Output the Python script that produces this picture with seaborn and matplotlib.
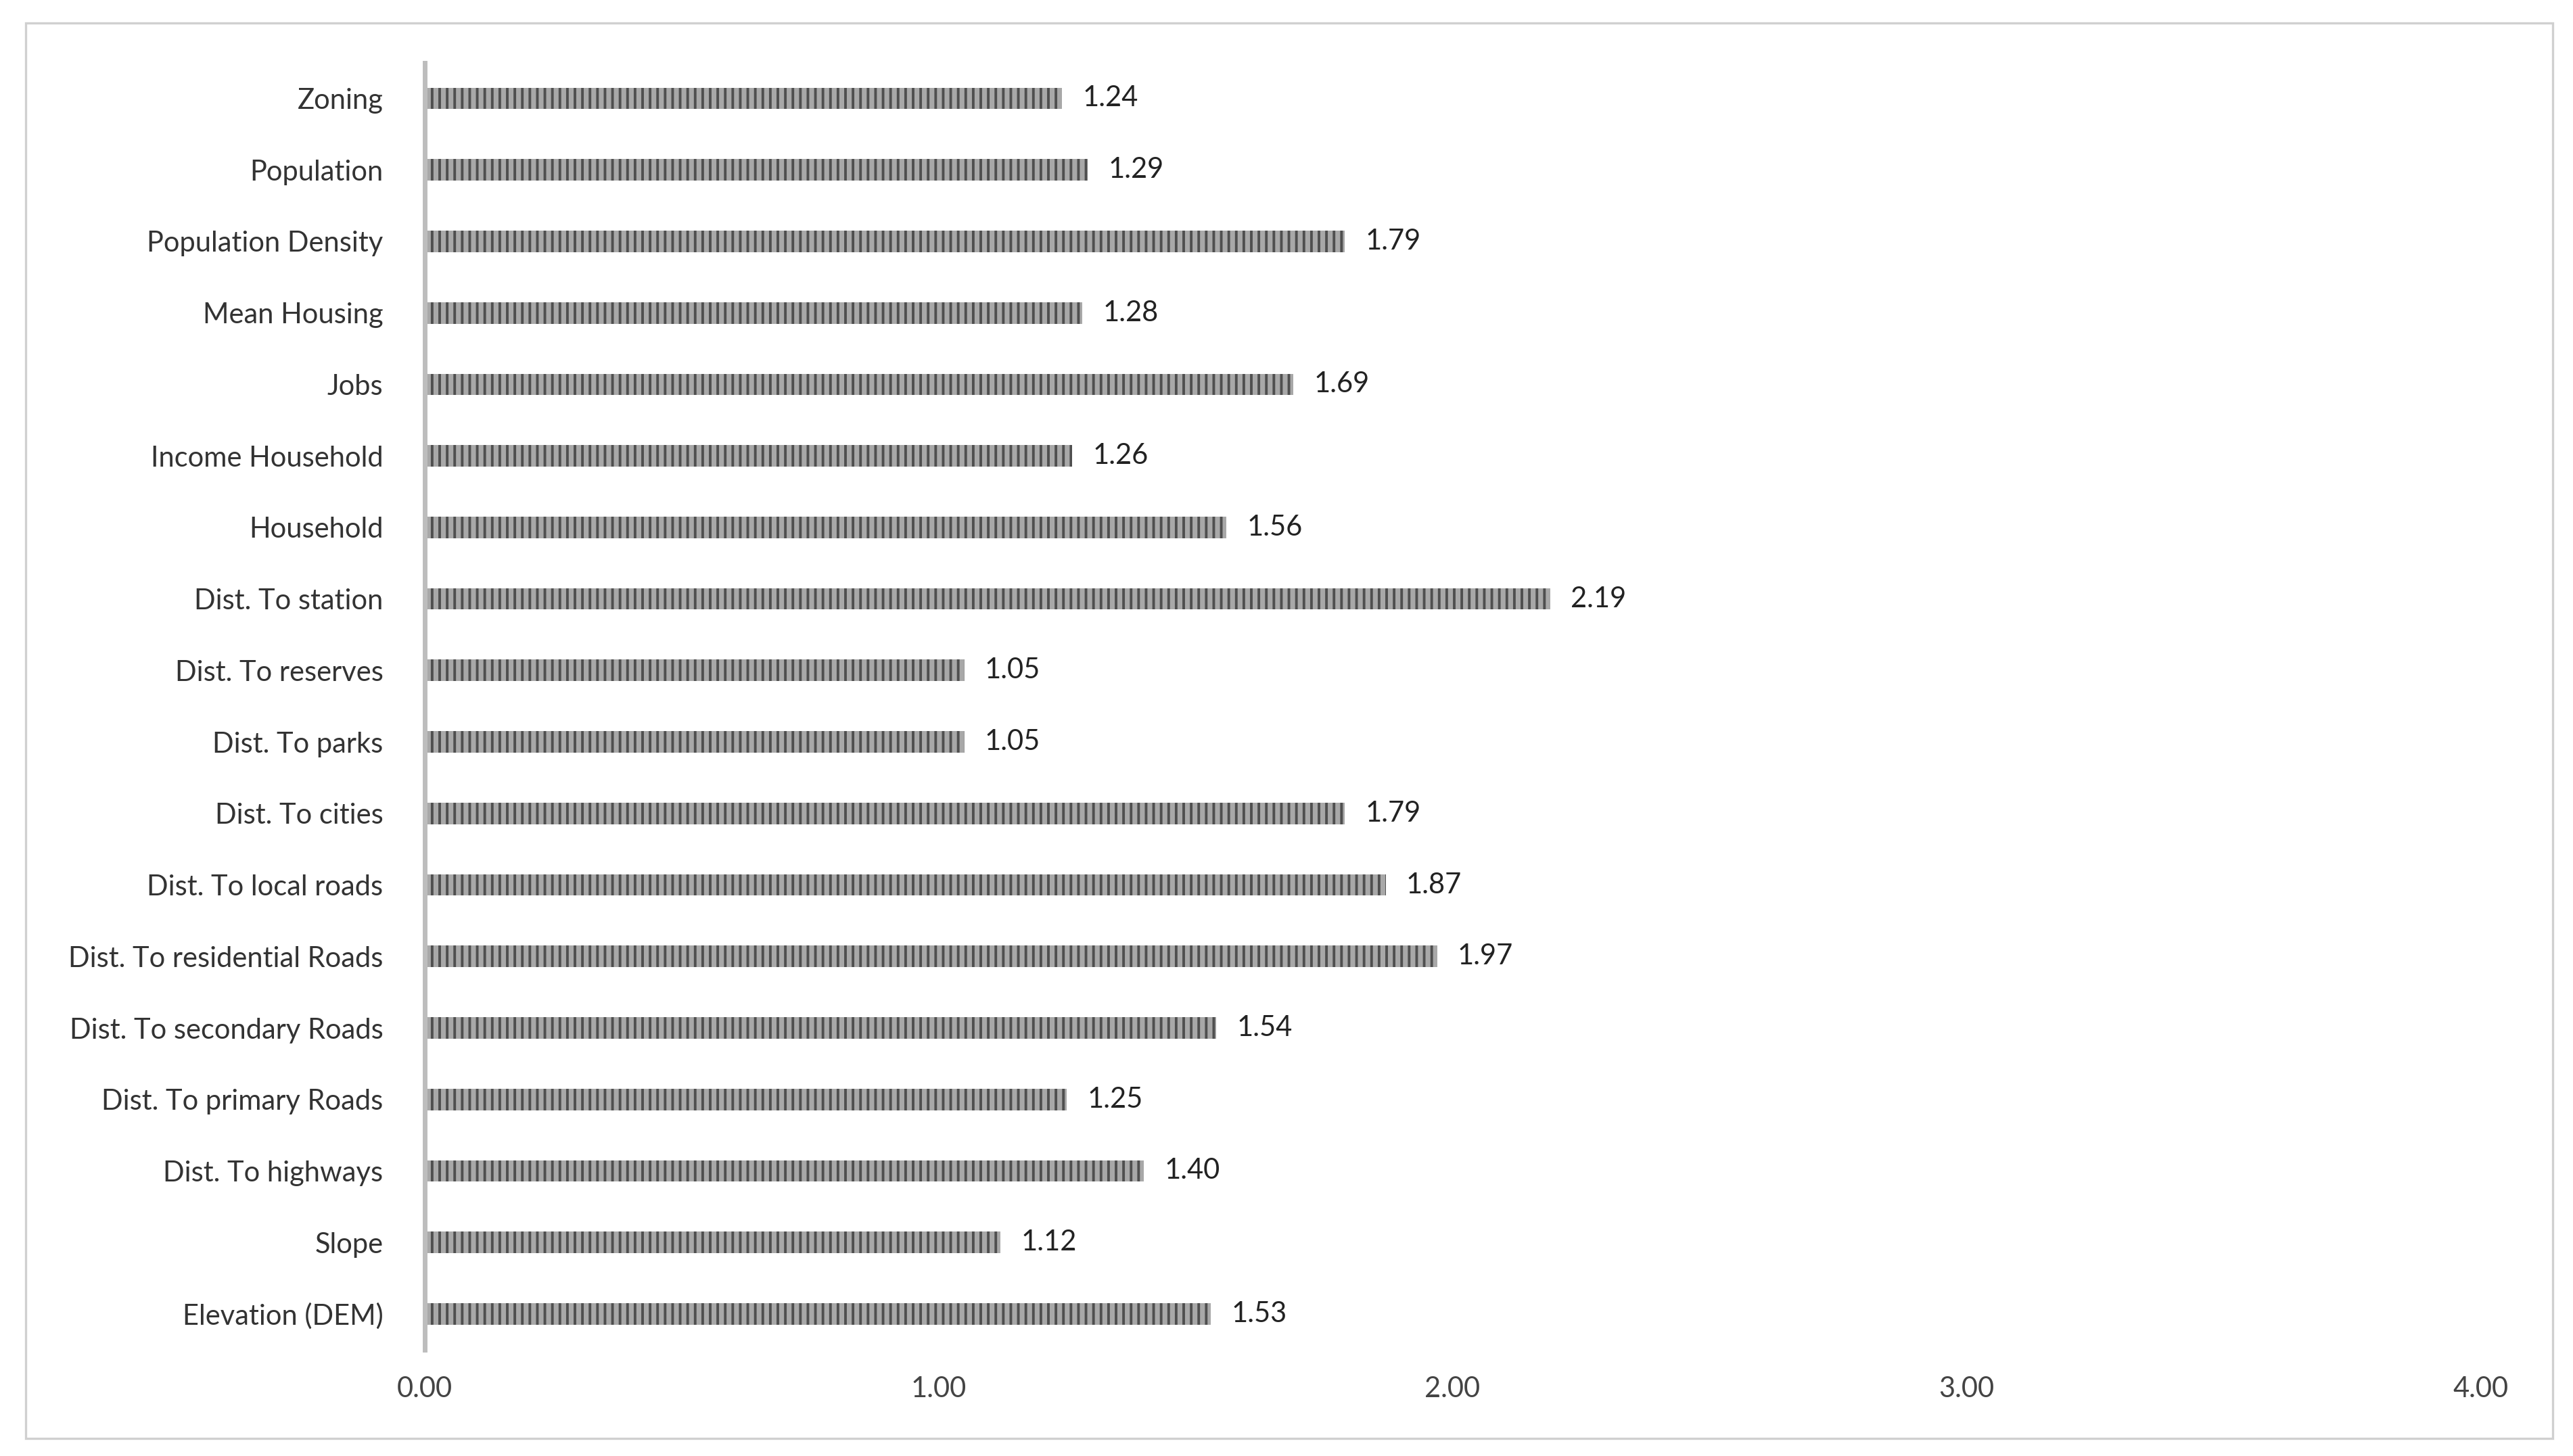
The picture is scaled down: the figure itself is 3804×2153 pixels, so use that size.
import matplotlib
matplotlib.use("Agg")
import matplotlib.pyplot as plt
import seaborn as sns
import pandas as pd
from matplotlib.patches import Rectangle

categories = ["Zoning", "Population", "Population Density", "Mean Housing", "Jobs",
              "Income Household", "Household", "Dist. To station", "Dist. To reserves",
              "Dist. To parks", "Dist. To cities", "Dist. To local roads",
              "Dist. To residential Roads", "Dist. To secondary Roads",
              "Dist. To primary Roads", "Dist. To highways", "Slope", "Elevation (DEM)"]
values = [1.24, 1.29, 1.79, 1.28, 1.69, 1.26, 1.56, 2.19, 1.05, 1.05, 1.79, 1.87,
          1.97, 1.54, 1.25, 1.40, 1.12, 1.53]
xticks = [0.0, 1.0, 2.0, 3.0, 4.0]

sns.set_theme(style="white")
plt.rcParams['font.family'] = ['Lato', 'DejaVu Sans']
plt.rcParams['hatch.linewidth'] = 1.4
plt.rcParams['hatch.color'] = '#4f4f4f'

fig = plt.figure(figsize=(19.02, 10.765), dpi=200)
fig.patches.append(Rectangle((0.010, 0.012), 0.982, 0.972, transform=fig.transFigure,
                             fill=False, edgecolor='#d0d0d0', linewidth=1.2))
ax = fig.add_axes([0.165, 0.073, 0.799, 0.884])
df = pd.DataFrame({"cat": categories, "val": values})
sns.barplot(data=df, x="val", y="cat", orient="h", color="#a8a8a8", width=0.3,
            ax=ax, saturation=1)
for p in ax.patches:
    p.set_hatch('|||')
    p.set_edgecolor('#4f4f4f')
    p.set_linewidth(0)
for i, v in enumerate(values):
    ax.text(v + 0.04, i, f"{v:.2f}", va='center', ha='left', fontsize=15, color='#222')
ax.set_xlim(0, 4)
ax.set_ylim(17.5, -0.5)
ax.set_xticks(xticks)
ax.set_xticklabels([f"{t:.2f}" for t in xticks], fontsize=15, color='#444')
ax.tick_params(axis='y', labelsize=15, labelcolor='#333', length=0, pad=22)
ax.tick_params(axis='x', length=0, pad=14)
ax.set_xlabel("")
ax.set_ylabel("")
for s in ['top', 'right', 'bottom']:
    ax.spines[s].set_visible(False)
ax.spines['left'].set_color('#bdbdbd')
ax.spines['left'].set_linewidth(2.5)
fig.savefig("out.png", dpi=200)
